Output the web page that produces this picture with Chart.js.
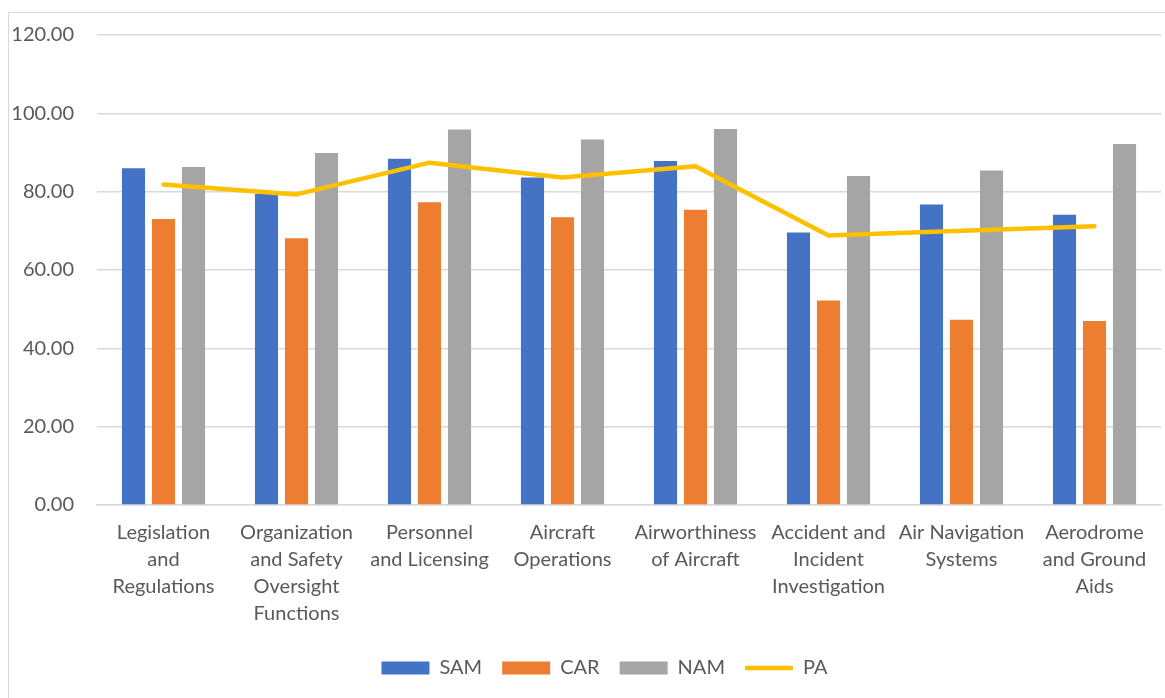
<!DOCTYPE html>
<html>
<head>
<meta charset="utf-8">
<script src="https://cdn.jsdelivr.net/npm/chart.js@4"></script>
<style>
    html, body { margin: 0; padding: 0; background: #fff; }
    #frame { position: absolute; left: 8px; top: 12px; width: 1170px; height: 700px; border: 1px solid #d9d9d9; box-sizing: border-box; }
    #wrap { position: absolute; left: 0; top: 0; width: 1165px; height: 698px; }
</style>
</head>
<body>
<div id="frame"></div>
<div id="wrap"><canvas id="chart"></canvas></div>
<script>
    /* DATA */

    var categories = [
        ['Legislation', 'and', 'Regulations'],
        ['Organization', 'and Safety', 'Oversight', 'Functions'],
        ['Personnel', 'and Licensing'],
        ['Aircraft', 'Operations'],
        ['Airworthiness', 'of Aircraft'],
        ['Accident and', 'Incident', 'Investigation'],
        ['Air Navigation', 'Systems'],
        ['Aerodrome', 'and Ground', 'Aids']
    ];

    var sam = [86.0, 79.4, 88.4, 83.6, 87.8, 69.6, 76.7, 74.1];
    var car = [73.0, 68.1, 77.3, 73.5, 75.4, 52.2, 47.3, 47.0];
    var nam = [86.3, 89.9, 95.9, 93.3, 96.0, 84.0, 85.4, 92.2];
    var pa = [81.8, 79.3, 87.4, 83.6, 86.5, 68.8, 70.0, 71.2];

    var yTicks = [0, 20, 40, 60, 80, 100, 120];

    /* CHART */

    var textColor = '#595959';
    var gridColor = '#d9d9d9';
    Chart.defaults.font.family = 'Lato, "Noto Sans", sans-serif';
    Chart.defaults.font.size = 20;
    Chart.defaults.color = textColor;

    var barSet = (label, data, color) => ({
        type: 'bar',
        label: label,
        data: data,
        backgroundColor: color,
        borderWidth: 0,
        order: 1,
        pointStyle: 'rect',
        barPercentage: 0.77,
        categoryPercentage: 0.677
    });

    // legend sits a little right of the canvas centre, as in the original
    var legendShift = {
        id: 'legendShift',
        afterLayout: (chart) => {
            chart.legend.left += 24;
            chart.legend.right += 24;
        }
    };

    var config = {
        data: {
            labels: categories,
            datasets: [
                barSet('SAM', sam, '#4472c4'),
                barSet('CAR', car, '#ed7d31'),
                barSet('NAM', nam, '#a5a5a5'),
                {
                    type: 'line',
                    label: 'PA',
                    data: pa,
                    borderColor: '#ffc000',
                    backgroundColor: '#ffc000',
                    borderWidth: 4.5,
                    borderCapStyle: 'round',
                    borderJoinStyle: 'round',
                    pointRadius: 0,
                    pointStyle: 'line',
                    tension: 0,
                    order: 0
                }
            ]
        },
        options: {
            responsive: true,
            maintainAspectRatio: false,
            animation: false,
            layout: { padding: { top: 34, left: 0, right: 4, bottom: 10 } },
            scales: {
                x: {
                    grid: { display: false, drawTicks: false },
                    border: { color: gridColor, width: 1.5 },
                    ticks: { autoSkip: false, maxRotation: 0, minRotation: 0, padding: 14, font: { lineHeight: 1.35 } },
                    afterFit: (scale) => { scale.height = 133; }
                },
                y: {
                    min: yTicks[0],
                    max: yTicks[yTicks.length - 1],
                    grid: { color: gridColor, lineWidth: 1.5, drawTicks: false },
                    border: { display: false },
                    afterBuildTicks: (scale) => { scale.ticks = yTicks.map(v => ({ value: v })); },
                    ticks: { padding: 23, callback: (v) => Number(v).toFixed(2) },
                    afterFit: (scale) => { scale.width = 97; }
                }
            },
            plugins: {
                title: { display: false },
                tooltip: { enabled: false },
                legend: {
                    position: 'bottom',
                    labels: {
                        usePointStyle: true,
                        pointStyleWidth: 48,
                        boxHeight: 13,
                        padding: 20,
                        color: textColor,
                        sort: (a, b) => a.datasetIndex - b.datasetIndex
                    }
                }
            }
        },
        plugins: [legendShift]
    };

    var chart = new Chart(document.getElementById('chart'), config);
</script>
</body>
</html>
